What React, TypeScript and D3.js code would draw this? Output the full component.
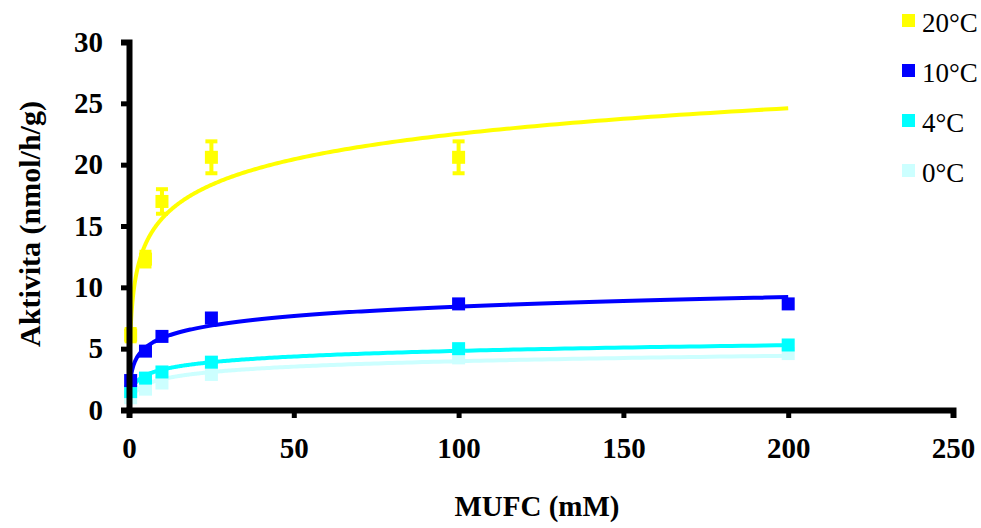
import { useEffect, useRef } from 'react';
import * as d3 from 'd3';

// MUFC concentrations (mM)
const concentrations = [0.5, 5, 10, 25, 100, 200];

// activity per temperature (nmol/h/g); null = no marker drawn
const act20 = [6.1, 12.3, 17.0, 20.6, 20.6, null];
const err20 = [0.5, 0.6, 1.0, 1.3, 1.3, null];
const act10 = [2.4, 4.8, 6.0, 7.5, 8.65, 8.65];
const act4 = [1.5, 2.6, 3.1, 3.9, 5.0, 5.3];
const act0 = [1.0, 1.7, 2.2, 2.9, 4.25, 4.6];

const seriesNames = ['20°C', '10°C', '4°C', '0°C'];
const seriesColors = ['#FFFF00', '#0000FF', '#00FFFF', '#CCFFFF'];

const xTicks = [0, 50, 100, 150, 200, 250];
const yTicks = [0, 5, 10, 15, 20, 25, 30];

const FONT = '"Liberation Serif", "Times New Roman", serif';

// Excel-like logarithmic trendline: y = a*ln(x) + b, least squares
function logFit(xs: number[], ys: (number | null)[]) {
  const pts = xs.map((x, i) => [Math.log(x), ys[i]]).filter(p => p[1] != null) as number[][];
  const mx = d3.mean(pts, p => p[0])!;
  const my = d3.mean(pts, p => p[1])!;
  const sxy = d3.sum(pts, p => (p[0] - mx) * (p[1] - my));
  const sxx = d3.sum(pts, p => (p[0] - mx) ** 2);
  const a = sxy / sxx;
  return { a, b: my - a * mx };
}

export default function App() {
  const svgRef = useRef<SVGSVGElement>(null);

  useEffect(() => {
    const width = 981;
    const height = 528;
    const margin = { top: 42, right: 28, bottom: 118, left: 129 };
    const innerW = width - margin.left - margin.right;
    const innerH = height - margin.top - margin.bottom;

    const svg = d3.select(svgRef.current);
    svg.selectAll('*').remove();

    const g = svg.append('g').attr('transform', `translate(${margin.left},${margin.top})`);

    const x = d3.scaleLinear().domain([0, 250]).range([0, innerW]);
    const y = d3.scaleLinear().domain([0, 30]).range([innerH, 0]);

    const series = [
      { name: seriesNames[0], color: seriesColors[0], values: act20, err: err20 },
      { name: seriesNames[1], color: seriesColors[1], values: act10, err: null },
      { name: seriesNames[2], color: seriesColors[2], values: act4, err: null },
      { name: seriesNames[3], color: seriesColors[3], values: act0, err: null },
    ];

    // trendlines + markers, coolest first so 20°C sits on top
    const drawOrder = [...series].reverse();
    const xStart = 0.15;
    drawOrder.forEach(s => {
      const { a, b } = logFit(concentrations, s.values);
      const xs = d3.range(0, 401).map(i => Math.exp(Math.log(xStart) + (Math.log(200) - Math.log(xStart)) * i / 400));
      const line = d3.line<number>()
        .x(v => x(v))
        .y(v => y(Math.max(0, a * Math.log(v) + b)));
      g.append('path')
        .datum(xs)
        .attr('fill', 'none')
        .attr('stroke', s.color)
        .attr('stroke-width', 4)
        .attr('d', line);
    });

    drawOrder.forEach(s => {
      const pts = concentrations.map((c, i) => ({ c, v: s.values[i], e: s.err ? s.err[i] : null }))
        .filter(p => p.v != null) as { c: number; v: number; e: number | null }[];

      pts.filter(p => p.e != null).forEach(p => {
        const cx = x(p.c);
        const eg = g.append('g').attr('stroke', s.color).attr('stroke-width', 4);
        eg.append('line').attr('x1', cx).attr('x2', cx).attr('y1', y(p.v - p.e!)).attr('y2', y(p.v + p.e!));
        eg.append('line').attr('x1', cx - 6).attr('x2', cx + 6).attr('y1', y(p.v - p.e!)).attr('y2', y(p.v - p.e!));
        eg.append('line').attr('x1', cx - 6).attr('x2', cx + 6).attr('y1', y(p.v + p.e!)).attr('y2', y(p.v + p.e!));
      });

      g.selectAll(null)
        .data(pts)
        .enter()
        .append('rect')
        .attr('x', d => x(d.c) - 6.5)
        .attr('y', d => y(d.v) - 6.5)
        .attr('width', 13)
        .attr('height', 13)
        .attr('fill', s.color);
    });

    // axes
    const axisStyle = (sel: d3.Selection<SVGGElement, unknown, null, undefined>) => {
      sel.select('.domain').attr('stroke', '#000').attr('stroke-width', 6);
      sel.selectAll('.tick line').attr('stroke', '#000').attr('stroke-width', 5);
      sel.selectAll('.tick text')
        .attr('fill', '#000')
        .style('font-family', FONT)
        .style('font-size', '29px')
        .style('font-weight', 'bold');
    };

    g.append('g')
      .attr('transform', `translate(0,${innerH})`)
      .call(d3.axisBottom(x).tickValues(xTicks).tickSize(8).tickSizeOuter(8).tickPadding(19))
      .call(axisStyle);

    g.append('g')
      .call(d3.axisLeft(y).tickValues(yTicks).tickSize(8).tickSizeOuter(8).tickPadding(18))
      .call(axisStyle);

    // axis titles
    svg.append('text')
      .attr('x', 537)
      .attr('y', 516)
      .attr('text-anchor', 'middle')
      .style('font-family', FONT)
      .style('font-size', '29px')
      .style('font-weight', 'bold')
      .text('MUFC (mM)');

    svg.append('text')
      .attr('transform', 'translate(40,224) rotate(-90)')
      .attr('text-anchor', 'middle')
      .style('font-family', FONT)
      .style('font-size', '30px')
      .style('font-weight', 'bold')
      .text('Aktivita (nmol/h/g)');

    // legend
    const legend = svg.append('g').attr('transform', 'translate(902,14)');
    series.forEach((s, i) => {
      const row = legend.append('g').attr('transform', `translate(0,${i * 50})`);
      row.append('rect').attr('width', 13).attr('height', 13).attr('fill', s.color);
      row.append('text')
        .attr('x', 20)
        .attr('y', 18)
        .style('font-family', FONT)
        .style('font-size', '27px')
        .text(s.name);
    });
  }, []);

  return (
    <svg
      ref={svgRef}
      width={981}
      height={528}
      style={{ position: 'absolute', left: 0, top: 0, background: '#fff' }}
    />
  );
}
